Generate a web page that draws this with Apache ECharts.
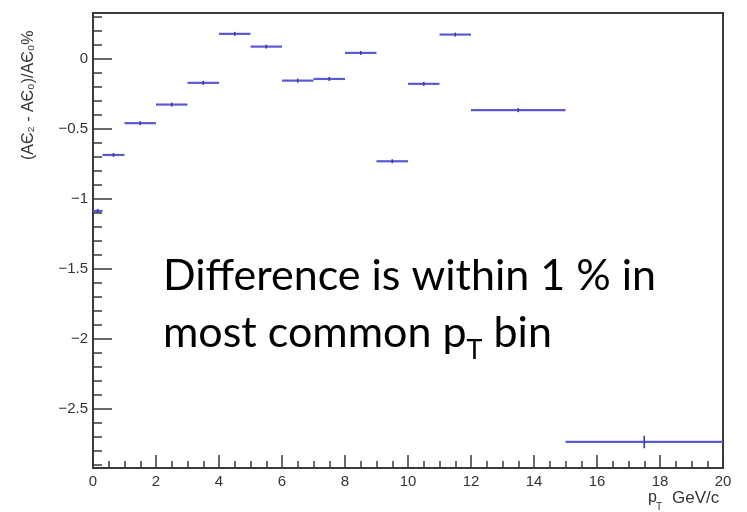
<!DOCTYPE html>
<html>
<head>
<meta charset="utf-8">
<script src="https://cdn.jsdelivr.net/npm/echarts@6/dist/echarts.min.js"></script>
<style>
  html, body { margin: 0; padding: 0; background: #fff; }
  #chart { width: 747px; height: 512px; }
</style>
</head>
<body>
<div id="chart"></div>
<script>
// pT bin edges (GeV/c)
const binLow  = [0, 0.3, 1, 2, 3, 4, 5, 6, 7, 8, 9, 10, 11, 12, 15];
const binHigh = [0.3, 1, 2, 3, 4, 5, 6, 7, 8, 9, 10, 11, 12, 15, 20];
// relative difference (%) per bin and its statistical error
const diffValues = [-1.084, -0.684, -0.457, -0.324, -0.169, 0.181, 0.090, -0.153, -0.141, 0.045, -0.729, -0.176, 0.176, -0.364, -2.734];
const diffErrors = [0.008, 0.008, 0.008, 0.008, 0.010, 0.010, 0.010, 0.010, 0.010, 0.008, 0.008, 0.008, 0.008, 0.008, 0.045];
// axis ticks
const xTicks = [0, 2, 4, 6, 8, 10, 12, 14, 16, 18, 20];
const yTicks = [-2.5, -2, -1.5, -1, -0.5, 0];
const yRange = [-2.92, 0.33];

const yMinor = [];
for (let k = -29; k <= 3; k++) yMinor.push(k / 10);

const points = binLow.map((lo, i) => [lo, binHigh[i], diffValues[i], diffErrors[i]]);

const axisColor = '#3a3a3a';
const labelFont = { fontFamily: 'Liberation Sans', fontSize: 15, color: '#333' };

function fmtY(v) {
  return v === 0 ? '0' : String(v).replace('-', '\u2212');
}

// fit the annotation font so the first line spans the wanted width
const ctx = document.createElement('canvas').getContext('2d');
const noteFamily = 'Lato';
const line1 = 'Difference is within 1 % in';
ctx.font = '100px ' + noteFamily;
const noteSize = Math.round(100 * 497 / ctx.measureText(line1).width);
ctx.font = noteSize + 'px ' + noteFamily;
const line2a = 'most common p';
const w2a = ctx.measureText(line2a).width;
ctx.font = Math.round(noteSize * 0.62) + 'px ' + noteFamily;
const wT = ctx.measureText('T').width;

const chart = echarts.init(document.getElementById('chart'));
chart.setOption({
  animation: false,
  grid: {
    left: 93, right: 24, top: 13, bottom: 44,
    show: true, borderColor: axisColor, borderWidth: 2, backgroundColor: '#fff'
  },
  xAxis: {
    type: 'value', min: 0, max: 20, interval: 2,
    axisLine: { onZero: false, lineStyle: { color: axisColor, width: 2 } },
    axisTick: { inside: true, length: 13, lineStyle: { color: axisColor, width: 1.5 } },
    minorTick: { show: true, splitNumber: 4, length: 7, lineStyle: { color: axisColor, width: 1.5 } },
    axisLabel: Object.assign({ margin: 6 }, labelFont),
    splitLine: { show: false }
  },
  yAxis: [{
    type: 'value', min: yRange[0], max: yRange[1],
    axisLine: { onZero: false, lineStyle: { color: axisColor, width: 2 } },
    axisTick: { inside: true, length: 19, customValues: yTicks, lineStyle: { color: axisColor, width: 1.5 } },
    axisLabel: Object.assign({ margin: 5, customValues: yTicks, formatter: fmtY }, labelFont),
    splitLine: { show: false }
  }, {
    type: 'value', min: yRange[0], max: yRange[1], position: 'left',
    axisLine: { show: false, onZero: false },
    axisTick: { inside: true, length: 9, customValues: yMinor, lineStyle: { color: axisColor, width: 1.5 } },
    axisLabel: { show: false },
    splitLine: { show: false }
  }],
  series: [{
    type: 'custom',
    xAxisIndex: 0, yAxisIndex: 0,
    data: points,
    renderItem: function (params, api) {
      const lo = api.value(0), hi = api.value(1), v = api.value(2), e = api.value(3);
      const a = api.coord([lo, v]);
      const b = api.coord([hi, v]);
      const mid = (lo + hi) / 2;
      const t = api.coord([mid, v + e]);
      const u = api.coord([mid, v - e]);
      return {
        type: 'group',
        children: [{
          type: 'line',
          shape: { x1: a[0], y1: a[1], x2: b[0], y2: b[1] },
          style: { stroke: '#5a5ad4', lineWidth: 2.2 }
        }, {
          type: 'line',
          shape: { x1: t[0], y1: Math.min(t[1], a[1] - 2), x2: u[0], y2: Math.max(u[1], a[1] + 2) },
          style: { stroke: '#3b3ba8', lineWidth: 1.6 }
        }]
      };
    }
  }],
  graphic: [{
    type: 'text', x: 29, y: 160, rotation: Math.PI / 2,
    style: {
      text: '(A\u0404\u2082 - A\u0404\u2080)/A\u0404\u2080%',
      font: '16px "Liberation Sans"', fill: '#333',
      textAlign: 'left', textVerticalAlign: 'middle'
    }
  }, {
    type: 'text', x: 648, y: 498,
    style: { text: 'p', font: '16px "Liberation Sans"', fill: '#333', textAlign: 'left', textVerticalAlign: 'middle' }
  }, {
    type: 'text', x: 656, y: 507,
    style: { text: 'T', font: '10px "Liberation Sans"', fill: '#333', textAlign: 'left', textVerticalAlign: 'middle' }
  }, {
    type: 'text', x: 672, y: 498,
    style: { text: 'GeV/c', font: '17px "Liberation Sans"', fill: '#333', textAlign: 'left', textVerticalAlign: 'middle' }
  }, {
    type: 'text', x: 163, y: 298,
    style: { text: line1, font: noteSize + 'px ' + noteFamily, fill: '#000', textAlign: 'left', textVerticalAlign: 'bottom' }
  }, {
    type: 'text', x: 163, y: 355,
    style: { text: line2a, font: noteSize + 'px ' + noteFamily, fill: '#000', textAlign: 'left', textVerticalAlign: 'bottom' }
  }, {
    type: 'text', x: 163 + w2a, y: 364,
    style: { text: 'T', font: Math.round(noteSize * 0.62) + 'px ' + noteFamily, fill: '#000', textAlign: 'left', textVerticalAlign: 'bottom' }
  }, {
    type: 'text', x: 163 + w2a + wT, y: 355,
    style: { text: ' bin', font: noteSize + 'px ' + noteFamily, fill: '#000', textAlign: 'left', textVerticalAlign: 'bottom' }
  }]
});
</script>
</body>
</html>
